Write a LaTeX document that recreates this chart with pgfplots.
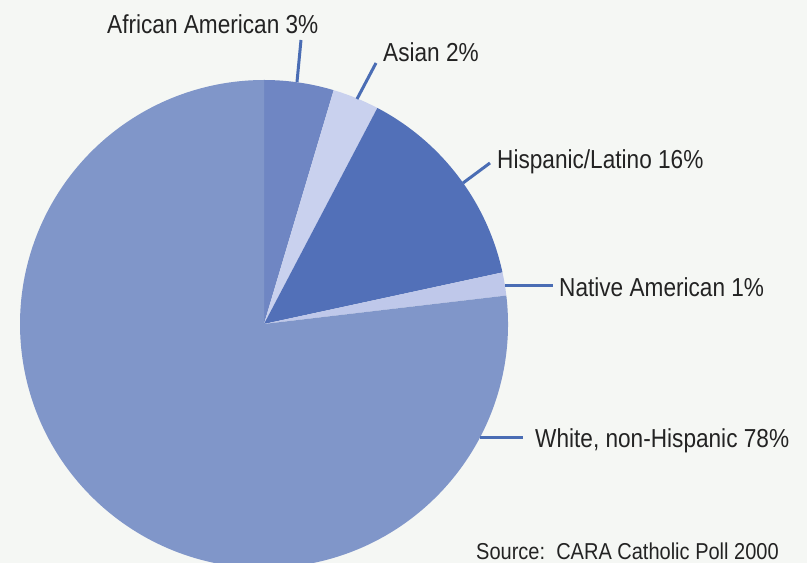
\documentclass[border=0pt]{standalone}
\usepackage{pgfplots}
\pgfplotsset{compat=1.18}
\usepackage{pgfplotstable}
\usepackage{fontspec}
\setmainfont[FakeStretch=0.87]{Liberation Sans}

\definecolor{bgc}{HTML}{F5F7F4}
\definecolor{cAA}{HTML}{6F86C3}
\definecolor{cAS}{HTML}{C9D1EE}
\definecolor{cHI}{HTML}{5270B8}
\definecolor{cNA}{HTML}{BFC8EA}
\definecolor{cWH}{HTML}{8096C9}
\definecolor{leader}{HTML}{4A6DB4}
\definecolor{txt}{HTML}{232323}

% shares of the drawn slices (percent), clockwise from 12 o'clock
\pgfplotstableread{
group share
AfricanAmerican 4.61
Asian 3.08
Hispanic 13.92
Native 1.53
White 76.86
}\piedata

% cumulative start / end angles
\xdef\cum{0}
\foreach \i in {0,...,4}{%
  \pgfplotstablegetelem{\i}{share}\of\piedata
  \pgfmathsetmacro{\st}{90-3.6*\cum}%
  \pgfmathsetmacro{\en}{90-3.6*(\cum+\pgfplotsretval)}%
  \pgfmathsetmacro{\nc}{\cum+\pgfplotsretval}%
  \expandafter\xdef\csname pieS\i\endcsname{\st}%
  \expandafter\xdef\csname pieE\i\endcsname{\en}%
  \xdef\cum{\nc}%
}

\begin{document}
\begin{tikzpicture}
\fill[bgc] (0,0) rectangle (807bp,563bp);
\begin{axis}[
  at={(0,0)}, anchor=south west,
  scale only axis, width=807bp, height=563bp,
  xmin=0, xmax=807, ymin=0, ymax=563,
  hide axis, clip=true,
]
\def\cx{264}\def\cy{239}\def\R{244bp}
\fill[cAA] (axis cs:\cx,\cy) -- ++(\csname pieS0\endcsname:\R) arc[start angle=\csname pieS0\endcsname, end angle=\csname pieE0\endcsname, radius=\R] -- cycle;
\fill[cAS] (axis cs:\cx,\cy) -- ++(\csname pieS1\endcsname:\R) arc[start angle=\csname pieS1\endcsname, end angle=\csname pieE1\endcsname, radius=\R] -- cycle;
\fill[cHI] (axis cs:\cx,\cy) -- ++(\csname pieS2\endcsname:\R) arc[start angle=\csname pieS2\endcsname, end angle=\csname pieE2\endcsname, radius=\R] -- cycle;
\fill[cNA] (axis cs:\cx,\cy) -- ++(\csname pieS3\endcsname:\R) arc[start angle=\csname pieS3\endcsname, end angle=\csname pieE3\endcsname, radius=\R] -- cycle;
\fill[cWH] (axis cs:\cx,\cy) -- ++(\csname pieS4\endcsname:\R) arc[start angle=\csname pieS4\endcsname, end angle=\csname pieE4\endcsname, radius=\R] -- cycle;

\addplot[leader, line width=3bp, no marks] coordinates {(297,481) (301,523)};
\addplot[leader, line width=3bp, no marks] coordinates {(357,464) (376,500)};
\addplot[leader, line width=3bp, no marks] coordinates {(463,380) (490,400)};
\addplot[leader, line width=3bp, no marks] coordinates {(505,277) (553,277)};
\addplot[leader, line width=3bp, no marks] coordinates {(480,125) (523,125)};
\end{axis}
\begin{scope}[every node/.style={anchor=base west, inner sep=0pt, text=txt, font=\fontsize{26bp}{28bp}\selectfont}]
\node at (107bp,529bp) {African American 3\%};
\node at (383bp,501bp) {Asian 2\%};
\node at (497bp,394bp) {Hispanic/Latino 16\%};
\node at (559bp,266bp) {Native American 1\%};
\node at (535bp,115bp) {White, non-Hispanic 78\%};
\node[font=\fontsize{23bp}{25bp}\selectfont] at (476bp,4bp) {Source:\ \ CARA Catholic Poll 2000};
\end{scope}
\end{tikzpicture}
\end{document}
